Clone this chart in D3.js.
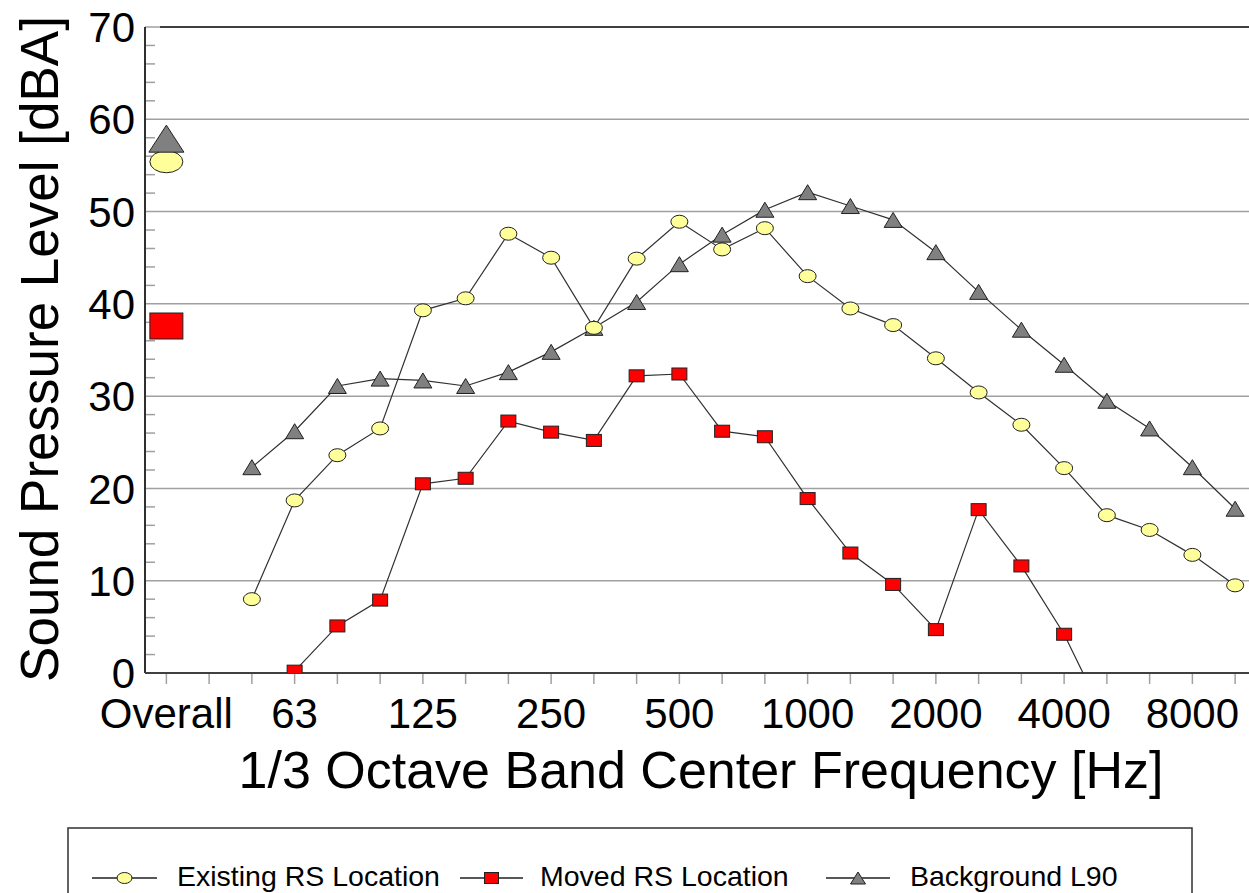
<!DOCTYPE html>
<html><head><meta charset="utf-8">
<script src="https://cdn.jsdelivr.net/npm/d3@7"></script>
<style>html,body{margin:0;padding:0;background:#fff;} svg{display:block;font-family:"Liberation Sans",Arial,sans-serif;}</style>
</head><body>
<svg id="c" width="1249" height="893"></svg>
<script>
const categories = ["Overall","gap","50","63","80","100","125","160","200","250","315","400","500","630","800","1000","1250","1600","2000","2500","3150","4000","5000","6300","8000","10000"];
const bands = ["50","63","80","100","125","160","200","250","315","400","500","630","800","1000","1250","1600","2000","2500","3150","4000","5000","6300","8000","10000"];
const tickLabels = ["Overall","63","125","250","500","1000","2000","4000","8000"];
const yTicks = [0,10,20,30,40,50,60,70];
const existing = [8.0,18.7,23.6,26.5,39.3,40.6,47.6,45.0,37.4,44.9,48.9,45.9,48.2,43.0,39.5,37.7,34.1,30.4,26.9,22.2,17.1,15.5,12.8,9.5];
const moved = [null,0.2,5.1,7.9,20.5,21.1,27.3,26.1,25.2,32.2,32.4,26.2,25.6,18.9,13.0,9.6,4.7,17.7,11.6,4.2,-5.3,null,null,null];
const background = [22.3,26.2,31.1,31.9,31.7,31.1,32.6,34.8,37.4,40.2,44.3,47.5,50.2,52.1,50.6,49.1,45.6,41.3,37.2,33.4,29.5,26.5,22.3,17.8];
const overall = {existing:55.4, moved:37.6, background:57.9};
const seriesNames = ["Existing RS Location","Moved RS Location","Background L90"];

const svg = d3.select("#c");
const pLeft = 145, pTop = 27, pBottom = 673;
const step = 42.75;
const pRight = pLeft + step*categories.length;
const x = d3.scalePoint().domain(categories).range([pLeft+step/2, pRight-step/2]);
const y = d3.scaleLinear().domain([0,70]).range([pBottom, pTop]);

// grid lines
svg.append("g").selectAll("line").data(yTicks.filter(d=>d>0)).join("line")
  .attr("x1", pLeft).attr("x2", 1249).attr("y1", d=>y(d)).attr("y2", d=>y(d))
  .attr("stroke", "#a0a0a0").attr("stroke-width", 1.5);
svg.append("line").attr("x1",160).attr("x2",1249).attr("y1",y(70)).attr("y2",y(70)).attr("stroke","#404040").attr("stroke-width",2);

// minor y ticks (every 2 dB, inside)
svg.append("g").selectAll("line").data(d3.range(2,70,2).filter(d=>d%10!==0)).join("line")
  .attr("x1", pLeft).attr("x2", pLeft+10).attr("y1", d=>y(d)).attr("y2", d=>y(d))
  .attr("stroke", "#a0a0a0").attr("stroke-width", 1.5);

// x axis ticks
svg.append("g").selectAll("line").data(categories).join("line")
  .attr("x1", d=>x(d)).attr("x2", d=>x(d)).attr("y1", pBottom).attr("y2", pBottom+11)
  .attr("stroke", "#a0a0a0").attr("stroke-width", 1.5);

// axes lines
svg.append("line").attr("x1",pLeft).attr("x2",pLeft).attr("y1",pTop).attr("y2",pBottom).attr("stroke","#303030").attr("stroke-width",2);
svg.append("line").attr("x1",pLeft).attr("x2",1249).attr("y1",pBottom).attr("y2",pBottom).attr("stroke","#404040").attr("stroke-width",2);

// y tick labels
svg.append("g").selectAll("text").data(yTicks).join("text")
  .attr("x", 135).attr("y", d=>y(d)).attr("dy","0.36em")
  .attr("text-anchor","end").attr("font-size",42).attr("fill","#000").text(d=>d);

// x tick labels
svg.append("g").selectAll("text").data(tickLabels).join("text")
  .attr("x", d=>x(d)).attr("y", 728)
  .attr("text-anchor","middle").attr("font-size",42).attr("fill","#000").text(d=>d);

// titles
svg.append("text").attr("x",701).attr("y",788).attr("text-anchor","middle").attr("font-size",52).text("1/3 Octave Band Center Frequency [Hz]");
svg.append("text").attr("transform","translate(58,349) rotate(-90)").attr("text-anchor","middle").attr("font-size",53).text("Sound Pressure Level [dBA]");

// clip
svg.append("defs").append("clipPath").attr("id","plotclip").append("rect")
  .attr("x",pLeft).attr("y",pTop).attr("width",1249-pLeft).attr("height",pBottom-pTop);

const line = d3.line().defined(d=>d.v!==null).x(d=>x(d.k)).y(d=>y(d.v));
function pts(arr){ return bands.map((k,i)=>({k, v:arr[i]})); }

const g = svg.append("g").attr("clip-path","url(#plotclip)");
[existing, moved, background].forEach(arr=>{
  g.append("path").datum(pts(arr)).attr("d", line).attr("fill","none").attr("stroke","#303030").attr("stroke-width",1.2);
});

function tri(cx, cy, w, h){ return `M${cx-w/2},${cy+h/2}L${cx},${cy-h/2}L${cx+w/2},${cy+h/2}Z`; }

const mk = svg.append("g").attr("clip-path","url(#plotclip)");
mk.selectAll("path.bg").data(pts(background)).join("path").attr("class","bg")
  .attr("d", d=>tri(x(d.k), y(d.v), 18, 15)).attr("fill","#808080").attr("stroke","#202020").attr("stroke-width",1);
mk.selectAll("ellipse.ex").data(pts(existing)).join("ellipse").attr("class","ex")
  .attr("cx", d=>x(d.k)).attr("cy", d=>y(d.v)).attr("rx",8.5).attr("ry",6.5)
  .attr("fill","#ffff99").attr("stroke","#202020").attr("stroke-width",1);
mk.selectAll("rect.mv").data(pts(moved).filter(d=>d.v!==null && d.v>=0)).join("rect").attr("class","mv")
  .attr("x", d=>x(d.k)-7.5).attr("y", d=>y(d.v)-6).attr("width",15).attr("height",12)
  .attr("fill","#ff0000").attr("stroke","#202020").attr("stroke-width",1);

// overall markers
const ox = x("Overall");
svg.append("ellipse").attr("cx",ox).attr("cy",y(overall.existing)).attr("rx",16.5).attr("ry",11)
  .attr("fill","#ffff99").attr("stroke","#202020").attr("stroke-width",1);
svg.append("path").attr("d", tri(ox, y(overall.background), 35, 27)).attr("fill","#808080").attr("stroke","#202020").attr("stroke-width",1);
svg.append("rect").attr("x",ox-16.5).attr("y",y(overall.moved)-13).attr("width",33).attr("height",26)
  .attr("fill","#ff0000").attr("stroke","#202020").attr("stroke-width",1);

// legend
const lg = svg.append("g");
lg.append("rect").attr("x",68).attr("y",828).attr("width",1192-68).attr("height",100)
  .attr("fill","#fff").attr("stroke","#303030").attr("stroke-width",1.5);
const items = [
  {name:seriesNames[0], x0:92, x1:157, tx:177, type:"c"},
  {name:seriesNames[1], x0:460, x1:523, tx:540, type:"s"},
  {name:seriesNames[2], x0:826, x1:890, tx:910, type:"t"}
];
const ly = 878;
items.forEach(it=>{
  lg.append("line").attr("x1",it.x0).attr("x2",it.x1).attr("y1",ly).attr("y2",ly).attr("stroke","#202020").attr("stroke-width",1.3);
  const cx=(it.x0+it.x1)/2;
  if(it.type==="c") lg.append("ellipse").attr("cx",cx).attr("cy",ly).attr("rx",7.5).attr("ry",5.5).attr("fill","#ffff99").attr("stroke","#202020");
  if(it.type==="s") lg.append("rect").attr("x",cx-7).attr("y",ly-5.5).attr("width",14).attr("height",11).attr("fill","#ff0000").attr("stroke","#202020");
  if(it.type==="t") lg.append("path").attr("d",tri(cx,ly,15,12)).attr("fill","#808080").attr("stroke","#202020");
  lg.append("text").attr("x",it.tx).attr("y",886).attr("font-size",28.5).attr("fill","#000").text(it.name);
});
</script>
</body></html>
